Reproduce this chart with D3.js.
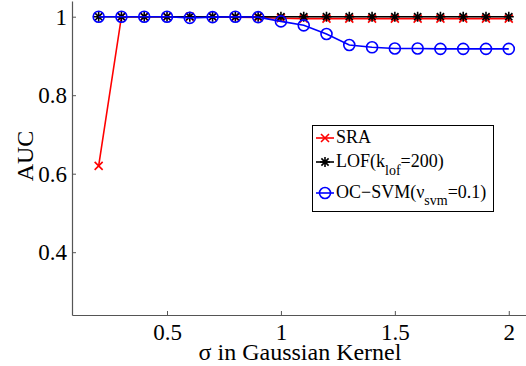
<!DOCTYPE html>
<html>
<head>
<meta charset="utf-8">
<script src="https://cdn.jsdelivr.net/npm/d3@7"></script>
<style>
  html, body { margin: 0; padding: 0; background: #fff; }
  svg { display: block; }
  svg text { font-family: "Liberation Serif", "DejaVu Serif", serif; }
</style>
</head>
<body>
<svg id="chart" width="526" height="366"></svg>
<script>
// Kernel width values
const sigma = [0.2, 0.3, 0.4, 0.5, 0.6, 0.7, 0.8, 0.9, 1.0, 1.1, 1.2, 1.3, 1.4, 1.5, 1.6, 1.7, 1.8, 1.9, 2.0];
// AUC per method
const sraAUC   = [0.62, 1.0, 1.0, 1.0, 1.0, 1.0, 0.999, 0.998, 0.996, 0.995, 0.995, 0.995, 0.995, 0.995, 0.995, 0.995, 0.995, 0.995, 0.995];
const lofAUC   = [1.0, 1.0, 1.0, 1.0, 1.0, 1.0, 1.0, 1.0, 1.0, 1.0, 1.0, 1.0, 1.0, 1.0, 1.0, 1.0, 1.0, 1.0, 1.0];
const ocsvmAUC = [1.0, 1.0, 1.0, 1.0, 0.997, 0.999, 1.0, 0.999, 0.988, 0.978, 0.956, 0.928, 0.922, 0.919, 0.919, 0.918, 0.918, 0.918, 0.918];
const xTicks = [0.5, 1, 1.5, 2];
const yTicks = [0.4, 0.6, 0.8, 1];

const FONT = "Liberation Serif, DejaVu Serif, serif";
const svg = d3.select("#chart");
const plotLeft = 72, plotRight = 527, plotTop = 1, plotBottom = 315;

const x = d3.scaleLinear().domain([0.083, 2.08]).range([plotLeft, plotRight]);
const y = d3.scaleLinear().domain([0.24, 1.04]).range([plotBottom, plotTop]);

// axes (ticks point inward)
const axisColor = "#555";
const gx = svg.append("g").attr("transform", `translate(0,${plotBottom})`)
  .call(d3.axisBottom(x).tickValues(xTicks).tickSizeInner(-4).tickSizeOuter(0).tickPadding(9)
        .tickFormat(d => d3.format("")(d)));
const gy = svg.append("g").attr("transform", `translate(${plotLeft},0)`)
  .call(d3.axisLeft(y).tickValues(yTicks).tickSizeInner(-4).tickSizeOuter(0).tickPadding(5)
        .tickFormat(d => d3.format("")(d)));
[gx, gy].forEach(g => {
  g.attr("font-family", FONT).attr("font-size", 23);
  g.select(".domain").attr("stroke", axisColor).attr("stroke-width", 1.2);
  g.selectAll(".tick line").attr("stroke", axisColor);
  g.selectAll(".tick text").attr("fill", "#000");
});

// axis titles
svg.append("text").attr("x", 300).attr("y", 360).attr("text-anchor", "middle")
  .attr("font-family", FONT).attr("font-size", 24).text("σ in Gaussian Kernel");
svg.append("text").attr("transform", `translate(33,${(plotTop + plotBottom) / 2 - 2}) rotate(-90)`)
  .attr("text-anchor", "middle").attr("font-family", FONT).attr("font-size", 24).text("AUC");

const line = d3.line().x(d => x(d[0])).y(d => y(d[1]));
const pts = vals => sigma.map((s, i) => [s, vals[i]]);

function xMark(g, cx, cy, r, color) {
  g.append("path").attr("d", `M${cx - r},${cy - r}L${cx + r},${cy + r}M${cx - r},${cy + r}L${cx + r},${cy - r}`)
    .attr("stroke", color).attr("stroke-width", 1.6).attr("fill", "none");
}
function starMark(g, cx, cy, r, color) {
  const d = r * 0.72;
  g.append("path").attr("d",
    `M${cx - r},${cy}L${cx + r},${cy}M${cx},${cy - r}L${cx},${cy + r}` +
    `M${cx - d},${cy - d}L${cx + d},${cy + d}M${cx - d},${cy + d}L${cx + d},${cy - d}`)
    .attr("stroke", color).attr("stroke-width", 1.6).attr("fill", "none");
}
function circleMark(g, cx, cy, r, color) {
  g.append("circle").attr("cx", cx).attr("cy", cy).attr("r", r)
    .attr("stroke", color).attr("stroke-width", 1.6).attr("fill", "none");
}

const series = [
  { vals: sraAUC, color: "#ff0000", mark: xMark, r: 4 },
  { vals: lofAUC, color: "#000000", mark: starMark, r: 5 },
  { vals: ocsvmAUC, color: "#0000ff", mark: circleMark, r: 5.5 }
];
series.forEach(s => {
  const g = svg.append("g");
  g.append("path").datum(pts(s.vals)).attr("d", line)
    .attr("fill", "none").attr("stroke", s.color).attr("stroke-width", 1.6);
  pts(s.vals).forEach(p => s.mark(g, x(p[0]), y(p[1]), s.r, s.color));
});

// legend
const lg = svg.append("g");
lg.append("rect").attr("x", 312.5).attr("y", 125.5).attr("width", 181).attr("height", 86)
  .attr("fill", "#fff").attr("stroke", "#000").attr("stroke-width", 1);
const entries = [
  { s: series[0], y: 138, sub: 0, parts: [["SRA", 0]] },
  { s: series[1], y: 162, sub: 8, parts: [["LOF(k", 0], ["lof", 1], ["=200)", 0]] },
  { s: series[2], y: 193, sub: 7, parts: [["OC\u2212SVM(\u03bd", 0], ["svm", 1], ["=0.1)", 0]] }
];
entries.forEach(e => {
  lg.append("line").attr("x1", 316).attr("x2", 334).attr("y1", e.y).attr("y2", e.y)
    .attr("stroke", e.s.color).attr("stroke-width", 1.6);
  e.s.mark(lg, 325, e.y, e.s.r, e.s.color);
  const t = lg.append("text").attr("x", 336).attr("y", e.y + 5)
    .attr("font-family", FONT).attr("font-size", 18);
  e.parts.forEach(([txt, sub], i) => {
    const ts = t.append("tspan").text(txt);
    if (sub) ts.attr("dy", e.sub).attr("font-size", 14);
    else if (i > 0) ts.attr("dy", -e.sub);
  });
});
</script>
</body>
</html>
